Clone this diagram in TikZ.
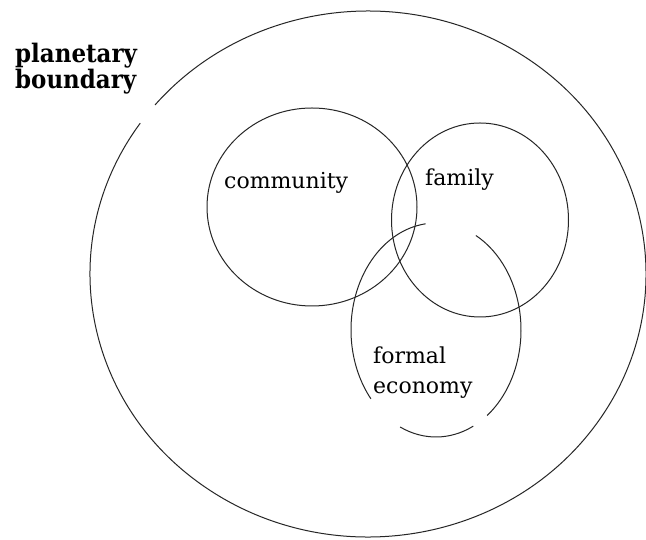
\documentclass[tikz,border=0pt]{standalone}
\usepackage{fontspec}
\setmainfont{DejaVu Serif}
\newfontfamily\condserif{DejaVu Serif Condensed}
\usetikzlibrary{calc}
\begin{document}
\begin{tikzpicture}[x=1pt,y=1pt,
  ring/.style={draw=black!85,line width=1pt},
  lbl/.style={inner sep=0pt,anchor=base west,font=\fontsize{22}{26}\selectfont},
  blbl/.style={inner sep=0pt,anchor=base west,font=\condserif\bfseries\fontsize{25.5}{30}\selectfont}]
\useasboundingbox[fill=white] (0,0) rectangle (646,540);
% planetary boundary (with gap)
\coordinate (pc) at (368,266);
\draw[ring] ($(pc)+({278*cos(145)},{263*sin(145)})$) arc[start angle=145,end angle=500,x radius=278,y radius=263];
% community
\coordinate (cc) at (312,333);
\draw[ring] (cc) ellipse[x radius=105,y radius=99];
% family
\coordinate (fc) at (480,320);
\draw[ring] (fc) ellipse[x radius=88.5,y radius=97];
% formal economy (broken)
\coordinate (ec) at (436,210);
\draw[ring] ($(ec)+({85*cos(97)},{107*sin(97)})$) arc[start angle=97,end angle=220,x radius=85,y radius=107];
\draw[ring] ($(ec)+({85*cos(245)},{107*sin(245)})$) arc[start angle=245,end angle=296,x radius=85,y radius=107];
\draw[ring] ($(ec)+({85*cos(307)},{107*sin(307)})$) arc[start angle=307,end angle=422,x radius=85,y radius=107];
% labels
\node[blbl] (pl1) at (15,477) {planetary};
\node[blbl] (pl2) at (15,451) {boundary};
\node[lbl] (com) at (224,351) {community};
\node[lbl] (fam) at (425,354) {family};
\node[lbl] (for) at (373,176) {formal};
\node[lbl] (eco) at (373,146) {economy};
\end{tikzpicture}
\end{document}
